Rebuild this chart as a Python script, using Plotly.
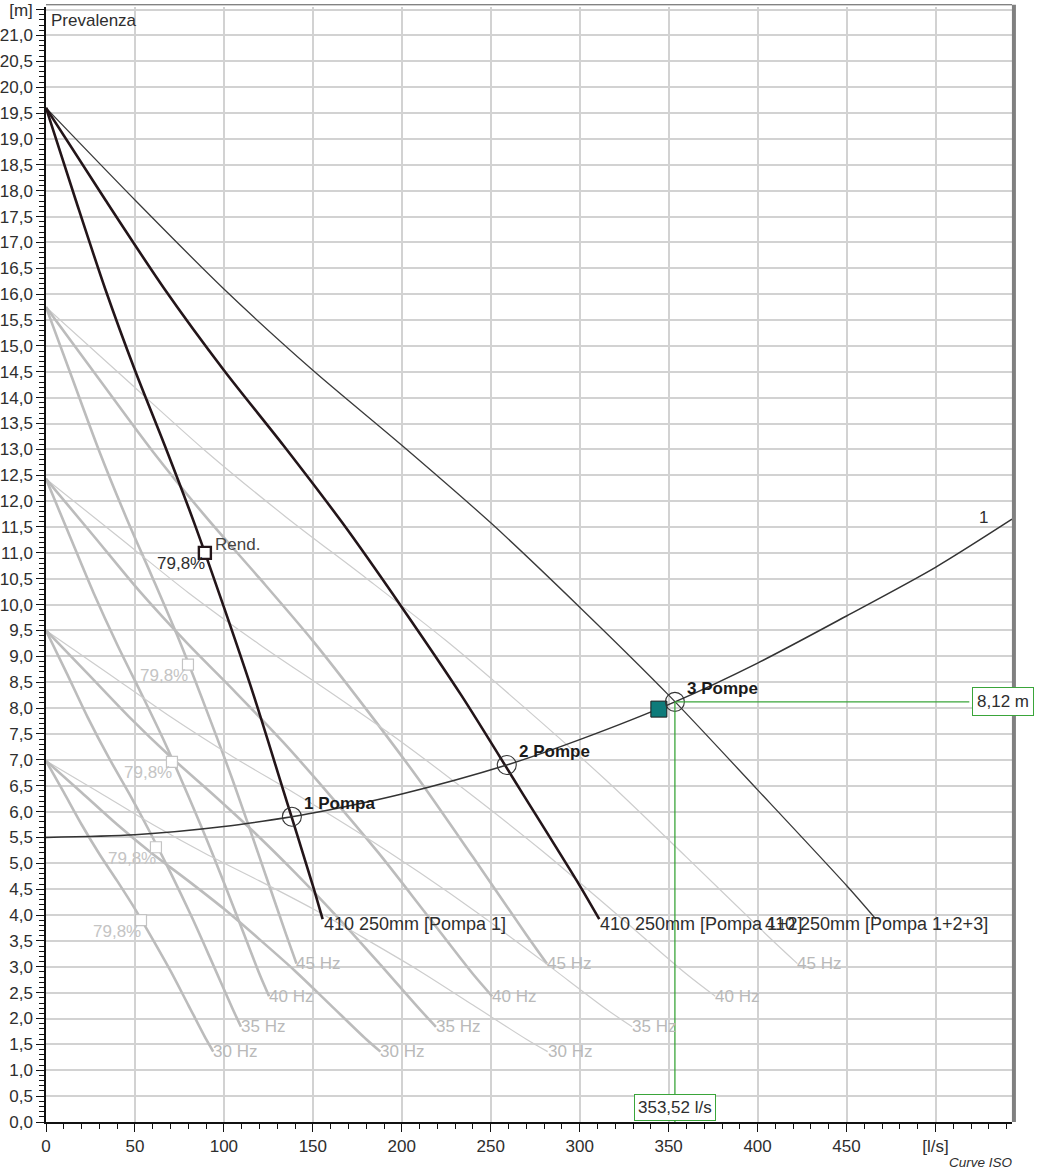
import plotly.graph_objects as go

# ---- Curve pompa (portata l/s, prevalenza m) ----
# 50 Hz
q_p1_50 = [0, 16.7, 33.3, 50, 66.7, 83.3, 100, 116.7, 133.3, 150, 155.5]
q_p12_50 = [0, 33.4, 66.6, 100, 133.4, 166.6, 200, 233.4, 266.6, 300, 311]
q_p123_50 = [0, 50, 100, 150, 200, 250, 300, 350, 400, 450, 466.5]
h_50 = [19.6, 17.82, 16.10, 14.53, 13.08, 11.58, 9.95, 8.25, 6.42, 4.57, 3.92]

# 45 Hz
q_p1_45 = [0, 15, 30, 45, 60, 75, 90, 105, 120, 135, 140.8]
q_p12_45 = [0, 30, 60, 90, 120, 150, 180, 210, 240, 270, 281.6]
q_p123_45 = [0, 45, 90, 135, 180, 225, 270, 315, 360, 405, 422.4]
h_45 = [15.75, 14.35, 12.96, 11.69, 10.51, 9.3, 7.98, 6.6, 5.12, 3.62, 3.06]

# 40 Hz
q_p1_40 = [0, 13.3, 26.7, 40, 53.3, 66.7, 80, 93.3, 106.7, 120, 125.4]
q_p12_40 = [0, 26.7, 53.3, 80, 106.7, 133.3, 160, 186.7, 213.3, 240, 250.8]
q_p123_40 = [0, 40, 80, 120, 160, 200, 240, 280, 320, 360, 376.2]
h_40 = [12.43, 11.33, 10.23, 9.23, 8.30, 7.34, 6.30, 5.21, 4.04, 2.86, 2.43]

# 35 Hz
q_p1_35 = [0, 11.7, 23.3, 35, 46.7, 58.3, 70, 81.7, 93.3, 105, 109.6]
q_p12_35 = [0, 23.3, 46.7, 70, 93.3, 116.7, 140, 163.3, 186.7, 210, 219.2]
q_p123_35 = [0, 35, 70, 105, 140, 175, 210, 245, 280, 315, 329.5]
h_35 = [9.5, 8.67, 7.83, 7.06, 6.35, 5.61, 4.82, 3.98, 3.09, 2.18, 1.84]

# 30 Hz
q_p1_30 = [0, 10, 20, 30, 40, 50, 60, 70, 80, 90, 94]
q_p12_30 = [0, 20, 40, 60, 80, 100, 120, 140, 160, 180, 188]
q_p123_30 = [0, 30, 60, 90, 120, 150, 180, 210, 240, 270, 282]
h_30 = [6.98, 6.37, 5.75, 5.18, 4.66, 4.12, 3.53, 2.92, 2.26, 1.60, 1.36]

# Punti di rendimento (79,8 %) per 50/45/40/35/30 Hz
q_eff = [89.3, 79.8, 70.8, 61.8, 53.4]
h_eff = [11.0, 8.84, 6.96, 5.31, 3.9]
eff_label = "79,8%"

# Curva impianto "1"
q_sys = [0, 50, 100, 138.2, 150, 200, 259, 300, 353.52, 400, 450, 500, 543]
h_sys = [5.5, 5.55, 5.71, 5.9, 5.97, 6.34, 6.9, 7.39, 8.12, 8.87, 9.78, 10.72, 11.65]

# Punti di lavoro
q_op = [138.2, 259, 353.52]
h_op = [5.9, 6.9, 8.12]
op_labels = ["1 Pompa", "2 Pompe", "3 Pompe"]

# Punto richiesto
q_req = [344.5]
h_req = [7.98]

# Punto di lavoro evidenziato
q_sel = 353.52
h_sel = 8.12

pump_names = ["410 250mm [Pompa 1]", "410 250mm [Pompa 1+2]", "410 250mm [Pompa 1+2+3]"]

X_MAX = 543
Y_MAX = 21.55
FONT = "Arial, Liberation Sans, sans-serif"
TXT = "#2e2e2e"
GREEN = "#3aa53a"

fig = go.Figure()

grey_thick = dict(color="#bcbcbc", width=2.6, shape="spline", smoothing=0.8)
grey_thin = dict(color="#cdcdcd", width=1.2, shape="spline", smoothing=0.8)

reduced = [
    ("45", q_p1_45, q_p12_45, q_p123_45, h_45),
    ("40", q_p1_40, q_p12_40, q_p123_40, h_40),
    ("35", q_p1_35, q_p12_35, q_p123_35, h_35),
    ("30", q_p1_30, q_p12_30, q_p123_30, h_30),
]

annotations = []

for hz, q1, q2, q3, h in reduced:
    for q, style in ((q3, grey_thin), (q2, grey_thick), (q1, grey_thick)):
        fig.add_trace(go.Scatter(x=q, y=h, mode="lines", line=style,
                                 hoverinfo="skip", showlegend=False))
        annotations.append(dict(x=q[-1], y=h[-1], text=f"{hz} Hz", showarrow=False,
                                xanchor="left", yanchor="middle", xshift=-2,
                                font=dict(family=FONT, size=17, color="#b9b9b9")))

# Curve a 50 Hz
fig.add_trace(go.Scatter(x=q_p123_50, y=h_50, mode="lines",
                         line=dict(color="#3a3a3a", width=1.3, shape="spline", smoothing=0.8),
                         hoverinfo="skip", showlegend=False))
for q in (q_p12_50, q_p1_50):
    fig.add_trace(go.Scatter(x=q, y=h_50, mode="lines",
                             line=dict(color="#231519", width=2.6, shape="spline", smoothing=0.8),
                             hoverinfo="skip", showlegend=False))

# Curva impianto
fig.add_trace(go.Scatter(x=q_sys, y=h_sys, mode="lines",
                         line=dict(color="#333333", width=1.5, shape="spline", smoothing=0.8),
                         hoverinfo="skip", showlegend=False))

# Linee guida del punto di lavoro
fig.add_shape(type="line", xref="x", yref="y", x0=q_sel, x1=519, y0=h_sel, y1=h_sel,
              line=dict(color=GREEN, width=1.3))
fig.add_shape(type="line", xref="x", yref="y", x0=q_sel, x1=q_sel, y0=h_sel, y1=0,
              line=dict(color=GREEN, width=1.3))

# Punti di rendimento
fig.add_trace(go.Scatter(x=q_eff[1:], y=h_eff[1:], mode="markers",
                         marker=dict(symbol="square", size=11, color="white",
                                     line=dict(color="#c4c4c4", width=1.2)),
                         hoverinfo="skip", showlegend=False))
fig.add_trace(go.Scatter(x=q_eff[:1], y=h_eff[:1], mode="markers",
                         marker=dict(symbol="square", size=12, color="white",
                                     line=dict(color="#231519", width=2.4)),
                         hoverinfo="skip", showlegend=False))
for i, (q, h) in enumerate(zip(q_eff, h_eff)):
    annotations.append(dict(x=q, y=h, text=eff_label, showarrow=False,
                            xanchor="right", yanchor="middle", xshift=2, yshift=-11,
                            font=dict(family=FONT, size=17,
                                      color=TXT if i == 0 else "#c4c4c4")))
annotations.append(dict(x=q_eff[0], y=h_eff[0], text="Rend.", showarrow=False,
                        xanchor="left", yanchor="middle", xshift=8, yshift=8,
                        font=dict(family=FONT, size=17, color="#444444")))

# Punto richiesto
fig.add_trace(go.Scatter(x=q_req, y=h_req, mode="markers",
                         marker=dict(symbol="square", size=16, color="#0e7b7a",
                                     line=dict(color="#1c1c1c", width=1)),
                         hoverinfo="skip", showlegend=False))

# Punti di lavoro
fig.add_trace(go.Scatter(x=q_op, y=h_op, mode="markers",
                         marker=dict(symbol="circle-open", size=19, color="#333333",
                                     line=dict(color="#333333", width=1.1)),
                         hoverinfo="skip", showlegend=False))
for q, h, t in zip(q_op, h_op, op_labels):
    annotations.append(dict(x=q, y=h, text=f"<b>{t}</b>", showarrow=False,
                            xanchor="left", yanchor="middle", xshift=10, yshift=13,
                            font=dict(family=FONT, size=17, color="#1a1a1a")))

# Etichette delle curve a 50 Hz
ends = [(q_p1_50[-1], h_50[-1]), (q_p12_50[-1], h_50[-1])]
for (q, h), name in zip(ends, pump_names[:2]):
    annotations.append(dict(x=q, y=h, text=name, showarrow=False,
                            xanchor="left", yanchor="middle", xshift=-1, yshift=-5,
                            font=dict(family=FONT, size=18, color=TXT)))
annotations.append(dict(x=q_p123_50[-1], y=h_50[-1], text=pump_names[2], showarrow=False,
                        xanchor="left", yanchor="middle", xshift=-113, yshift=-5,
                        font=dict(family=FONT, size=18, color=TXT)))

# Etichetta curva impianto
annotations.append(dict(x=q_sys[-1], y=h_sys[-1], text="1", showarrow=False,
                        xanchor="center", yanchor="middle", xshift=-29, yshift=2,
                        font=dict(family=FONT, size=17, color=TXT)))

# Valori del punto di lavoro
annotations.append(dict(x=0.9907, xref="paper", y=h_sel, yref="y",
                        text="8,12 m", showarrow=False, xanchor="center", yanchor="middle",
                        bgcolor="white", bordercolor=GREEN, borderwidth=1, borderpad=4,
                        font=dict(family=FONT, size=17, color=TXT)))
annotations.append(dict(x=q_sel, xref="x", y=0, yref="paper",
                        text="353,52 l/s", showarrow=False, xanchor="center", yanchor="bottom",
                        yshift=1, bgcolor="white", bordercolor=GREEN, borderwidth=1,
                        borderpad=3, font=dict(family=FONT, size=17, color=TXT)))

# Testi fissi
annotations.append(dict(x=0.003, xref="paper", y=0.988, yref="paper", text="Prevalenza",
                        showarrow=False, xanchor="left", yanchor="middle",
                        font=dict(family=FONT, size=17, color=TXT)))
annotations.append(dict(x=1.003, xref="paper", y=-0.036, yref="paper", text="<i>Curve ISO</i>",
                        showarrow=False, xanchor="right", yanchor="middle",
                        font=dict(family=FONT, size=13.5, color=TXT)))

# Assi
x_ticks = list(range(0, 501, 50))
x_text = [str(v) for v in x_ticks[:-1]] + ["[l/s]"]
y_ticks = [i * 0.5 for i in range(44)]
y_text = [f"{v:.1f}".replace(".", ",") for v in y_ticks[:-1]] + ["[m]"]

fig.update_layout(
    width=1037, height=1171,
    margin=dict(l=46, r=25, t=7, b=49),
    plot_bgcolor="white", paper_bgcolor="white",
    annotations=annotations,
    font=dict(family=FONT, size=17, color=TXT),
    xaxis=dict(range=[0, X_MAX], tickmode="array", tickvals=x_ticks, ticktext=x_text,
               automargin=False,
               showgrid=True, gridcolor="#d2d2d2", gridwidth=1.5, zeroline=False,
               showline=True, linecolor="#111111", linewidth=2,
               ticks="outside", ticklen=8, tickcolor="#111111", tickwidth=1,
               tickfont=dict(family=FONT, size=17, color=TXT),
               minor=dict(dtick=10, tick0=0, ticklen=5, tickcolor="#111111", ticks="outside",
                          showgrid=False)),
    yaxis=dict(range=[0, Y_MAX], tickmode="array", tickvals=y_ticks, ticktext=y_text,
               automargin=False,
               showgrid=True, gridcolor="#d2d2d2", gridwidth=1.5, zeroline=False,
               showline=True, linecolor="#111111", linewidth=1.5,
               ticks="outside", ticklen=8, tickcolor="#111111", tickwidth=1,
               tickfont=dict(family=FONT, size=17, color=TXT),
               minor=dict(dtick=0.1, tick0=0, ticklen=5, tickcolor="#111111", ticks="outside",
                          showgrid=False)),
)

# Bordo superiore e destro dell'area del grafico
fig.add_shape(type="line", xref="paper", yref="paper", x0=0, x1=1, y0=1.002, y1=1.002,
              line=dict(color="#555555", width=1))
fig.add_shape(type="line", xref="paper", yref="paper", x0=1.002, x1=1.002, y0=0, y1=1.002,
              line=dict(color="#808080", width=4))

fig.write_html("out.html")
